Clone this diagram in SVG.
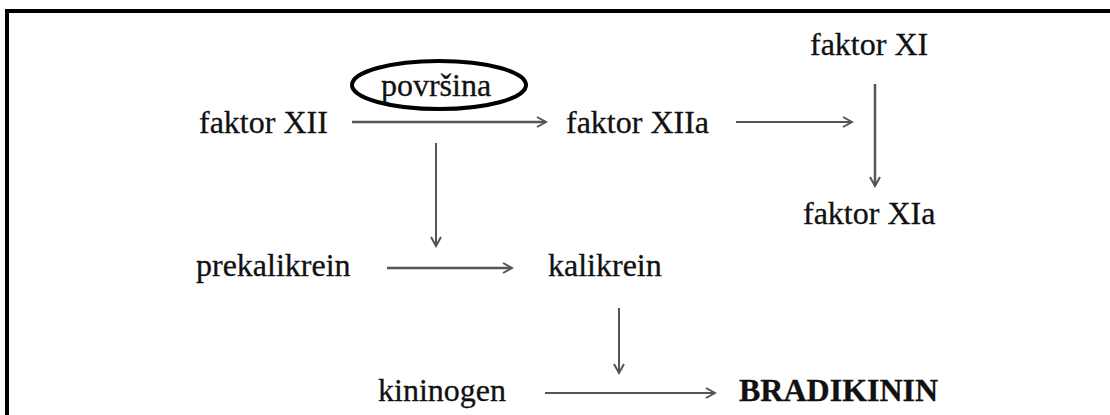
<svg xmlns="http://www.w3.org/2000/svg" width="1110" height="415" viewBox="0 0 1110 415">
<style>
  text { font-family: "Liberation Serif", "Times New Roman", serif; font-size: 32px; fill: #111; stroke: #111; stroke-width: 0.3; }
  .bold { font-weight: bold; }
  .conn line { stroke: #555; stroke-width: 2.5; fill: none; }
  .conn line.thin { stroke-width: 2; }
</style>
<defs>
  <marker id="arr" markerWidth="12" markerHeight="12" refX="10" refY="6" orient="auto" markerUnits="userSpaceOnUse">
    <path d="M1,1 L10,6 L1,11" fill="none" stroke="#555" stroke-width="2"/>
  </marker>
</defs>
<rect x="0" y="0" width="1110" height="415" fill="#fff"/>
<g id="frame">
  <line x1="7" y1="11" x2="1110" y2="11" stroke="#000" stroke-width="4"/>
  <line x1="7" y1="9" x2="7" y2="415" stroke="#000" stroke-width="4"/>
</g>
<g id="faktorXII"><text x="199" y="133">faktor XII</text></g>
<g id="povrsina">
  <ellipse cx="439" cy="85" rx="87" ry="24" fill="none" stroke="#000" stroke-width="4"/>
  <text x="436" y="96" text-anchor="middle">površina</text>
</g>
<g id="faktorXIIa"><text x="566" y="133">faktor XIIa</text></g>
<g id="faktorXI"><text x="810" y="55">faktor XI</text></g>
<g id="faktorXIa"><text x="803" y="224">faktor XIa</text></g>
<g id="prekalikrein"><text x="196" y="276">prekalikrein</text></g>
<g id="kalikrein"><text x="548" y="276">kalikrein</text></g>
<g id="kininogen"><text x="378" y="401">kininogen</text></g>
<g id="bradikinin"><text class="bold" x="739" y="401">BRADIKININ</text></g>
<g class="conn" id="connectors">
  <line x1="352" y1="122" x2="546" y2="122" marker-end="url(#arr)"/>
  <line x1="736" y1="122" x2="852" y2="122" class="thin" marker-end="url(#arr)"/>
  <line x1="875" y1="84" x2="875" y2="186" marker-end="url(#arr)"/>
  <line x1="436" y1="143" x2="436" y2="246" class="thin" marker-end="url(#arr)"/>
  <line x1="387" y1="268" x2="512" y2="268" marker-end="url(#arr)"/>
  <line x1="619" y1="308" x2="619" y2="373" class="thin" marker-end="url(#arr)"/>
  <line x1="545" y1="393" x2="715" y2="393" class="thin" marker-end="url(#arr)"/>
</g>
</svg>
